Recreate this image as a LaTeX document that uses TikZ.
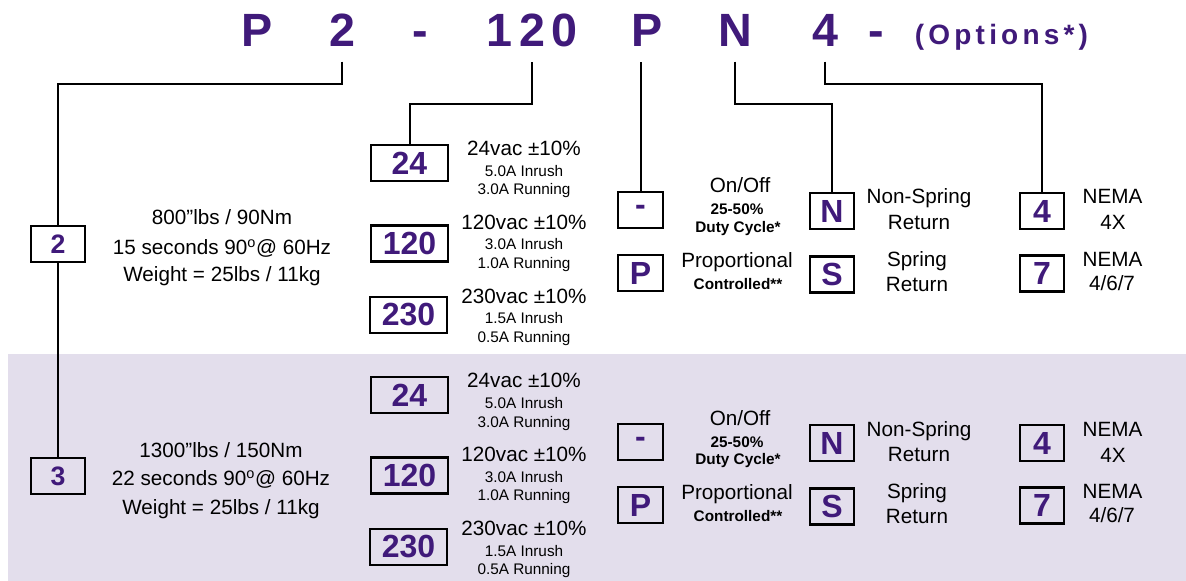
\documentclass[tikz,border=0pt]{standalone}
\usepackage{fontspec}
\setmainfont{Liberation Sans}
\definecolor{codepurple}{RGB}{64,26,122}
\definecolor{bandlilac}{RGB}{227,222,236}

\begin{document}
\begin{tikzpicture}[
    x=0.75pt, y=-0.75pt,
    code/.style={text=codepurple, inner sep=0pt, anchor=base, font=\fontsize{35}{40}\selectfont\bfseries},
    box/.style={draw, line width=1.7pt, inner sep=0pt, text=codepurple, font=\fontsize{24}{26}\selectfont\bfseries},
    size box/.style={box, minimum width=41pt, minimum height=27.5pt, font=\fontsize{20}{24}\selectfont\bfseries},
    volt box/.style={box, minimum width=58pt, minimum height=27pt},
    opt box/.style={box, minimum width=33.5pt, minimum height=27pt},
    info/.style={inner sep=0pt, anchor=base, font=\fontsize{15.5}{18}\selectfont},
    note/.style={info, font=\fontsize{11.5}{13}\selectfont},
    bold note/.style={info, font=\fontsize{11.5}{13}\selectfont\bfseries},
    connector/.style={line width=1.5pt},
  ]

  \useasboundingbox (0,0) rectangle (1186,581);
  \fill[bandlilac] (8,354) rectangle (1186,581);

  % Part number
  \node[code] (C-P1) at (257,46.7) {P};
  \node[code] (C-2) at (342,46.7) {2};
  \node[code] (C-d1) at (420,46.7) {-};
  \node[code] (C-120) at (532,46.7) {\addfontfeature{LetterSpace=15}120};
  \node[code] (C-P2) at (647,46.7) {P};
  \node[code] (C-N) at (735,46.7) {N};
  \node[code] (C-4) at (825,46.7) {4};
  \node[code] (C-d2) at (876.5,46.7) {-};
  \node[code, font=\fontsize{21}{24}\selectfont\bfseries] (C-opt) at (1001.5,45) {\addfontfeature{LetterSpace=15}(Options*)};

  % Actuator sizes
  \node[size box] (S-2) at (58,244) {2};
  \node[info] (S-2-a) at (222,224) {800”lbs / 90Nm};
  \node[info] (S-2-b) at (222,254) {15 seconds 90\textsuperscript{o}@ 60Hz};
  \node[info] (S-2-c) at (222,281.7) {Weight = 25lbs / 11kg};

  \node[size box] (S-3) at (58,476) {3};
  \node[info] (S-3-a) at (221,457) {1300”lbs / 150Nm};
  \node[info] (S-3-b) at (221,485.7) {22 seconds 90\textsuperscript{o}@ 60Hz};
  \node[info] (S-3-c) at (221,514) {Weight = 25lbs / 11kg};

  % Voltage, control, return and enclosure (same for both sizes)
  \foreach \blk/\dy in {A/0, B/232} {
    \begin{scope}[shift={(0,\dy)}]
      \node[volt box] (\blk-24) at (409.5,163) {24};
      \node[volt box] (\blk-120) at (409.5,243.5) {120};
      \node[volt box] (\blk-230) at (408.5,315) {230};
      \foreach \y/\volt/\inrush/\run in {155.7/24/5.0/3.0, 229/120/3.0/1.0, 303/230/1.5/0.5} {
        \node[info] (\blk-\volt-vac) at (524,\y) {\volt vac ±10\%};
        \node[note] (\blk-\volt-in) at (524,\y+21) {\inrush A Inrush};
        \node[note] (\blk-\volt-run) at (524,\y+39.3) {\run A Running};
      }

      \node[opt box] (\blk-off) at (640.5,210) {-};
      \node[opt box] (\blk-P) at (640.5,273) {P};
      \node[info] (\blk-off-a) at (740,193) {On/Off};
      \node[bold note] (\blk-off-b) at (737,215) {25-50\%};
      \node[bold note] (\blk-off-c) at (738,232.7) {Duty Cycle*};
      \node[info] (\blk-P-a) at (737,267.3) {Proportional};
      \node[bold note] (\blk-P-b) at (738,289) {Controlled**};

      \node[opt box] (\blk-N) at (832,211.3) {N};
      \node[opt box] (\blk-S) at (832,274.5) {S};
      \node[info] (\blk-N-a) at (919,204) {Non-Spring};
      \node[info] (\blk-N-b) at (919,229) {Return};
      \node[info] (\blk-S-a) at (917,266.7) {Spring};
      \node[info] (\blk-S-b) at (917,291.7) {Return};

      \node[opt box] (\blk-4) at (1042,211.2) {4};
      \node[opt box] (\blk-7) at (1042,273.5) {7};
      \node[info] (\blk-4-a) at (1112.5,204) {NEMA};
      \node[info] (\blk-4-b) at (1113,230) {4X};
      \node[info] (\blk-7-a) at (1112.5,266.7) {NEMA};
      \node[info] (\blk-7-b) at (1112,290.7) {4/6/7};
    \end{scope}
  }

  % Connections
  \foreach \c in {2,120,P2,N,4}
    \coordinate (\c-foot) at ([yshift=-11pt]C-\c.south);

  \draw[connector] (2-foot) -- ++(0,22.6) -| (S-2.north);
  \draw[connector] (S-2.south) -- (S-3.north);
  \draw[connector] (120-foot) -- ++(0,41.6) -| (A-24.north);
  \draw[connector] (A-off.north) -- (A-off.north |- P2-foot);
  \draw[connector] (N-foot) -- ++(0,41.9) -| (A-N.north);
  \draw[connector] (4-foot) -- ++(0,22.6) -| (A-4.north);

\end{tikzpicture}
\end{document}
